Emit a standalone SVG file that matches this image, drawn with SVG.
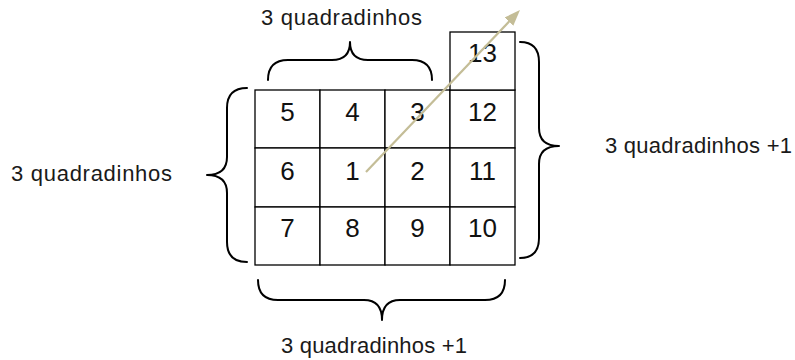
<svg xmlns="http://www.w3.org/2000/svg" width="795" height="360" viewBox="0 0 795 360">
  <style>
    .cell rect { fill: #ffffff; stroke: #000000; stroke-width: 1.3; }
    .cell text { font-family: "Liberation Sans", Arial, sans-serif; font-size: 26px; fill: #111111; text-anchor: middle; }
    .label { font-family: "Liberation Sans", Arial, sans-serif; font-size: 22px; fill: #1a1a1a; }
    .brace { fill: none; stroke: #000000; stroke-width: 2; stroke-linecap: round; stroke-linejoin: round; }
    .arrow { stroke: #C4BD97; stroke-width: 2.2; fill: none; }
  </style>
  <defs>
    <marker id="arrowhead" viewBox="0 0 16 12" refX="6" refY="6" markerWidth="16" markerHeight="12" markerUnits="userSpaceOnUse" orient="auto">
      <path d="M0,0 L16,6 L0,12 z" fill="#C4BD97"/>
    </marker>
  </defs>
  <rect x="0" y="0" width="795" height="360" fill="#ffffff"/>

  <g id="cell-5" class="cell"><rect x="255" y="90" width="65" height="58"/><text x="287.5" y="121">5</text></g>
  <g id="cell-4" class="cell"><rect x="320" y="90" width="65" height="58"/><text x="352.5" y="121">4</text></g>
  <g id="cell-3" class="cell"><rect x="385" y="90" width="65" height="58"/><text x="417.5" y="121">3</text></g>
  <g id="cell-12" class="cell"><rect x="450" y="90" width="65" height="58"/><text x="482.5" y="121">12</text></g>
  <g id="cell-6" class="cell"><rect x="255" y="148" width="65" height="59"/><text x="287.5" y="180">6</text></g>
  <g id="cell-1" class="cell"><rect x="320" y="148" width="65" height="59"/><text x="352.5" y="180">1</text></g>
  <g id="cell-2" class="cell"><rect x="385" y="148" width="65" height="59"/><text x="417.5" y="180">2</text></g>
  <g id="cell-11" class="cell"><rect x="450" y="148" width="65" height="59"/><text x="482.5" y="180">11</text></g>
  <g id="cell-7" class="cell"><rect x="255" y="207" width="65" height="58"/><text x="287.5" y="237">7</text></g>
  <g id="cell-8" class="cell"><rect x="320" y="207" width="65" height="58"/><text x="352.5" y="237">8</text></g>
  <g id="cell-9" class="cell"><rect x="385" y="207" width="65" height="58"/><text x="417.5" y="237">9</text></g>
  <g id="cell-10" class="cell"><rect x="450" y="207" width="65" height="58"/><text x="482.5" y="237">10</text></g>
  <g id="cell-13" class="cell"><rect x="450" y="32" width="65" height="58"/><text x="482.5" y="62">13</text></g>

  <g id="brace-top">
    <path class="brace" d="M268,80 Q268,60 288,60 L332,60 Q350,60 350,42 Q350,60 368,60 L412,60 Q432,60 432,80"/>
    <text class="label" x="261" y="25" textLength="161" lengthAdjust="spacing">3 quadradinhos</text>
  </g>
  <g id="brace-left">
    <path class="brace" d="M247,88 Q227,88 227,108 L227,157 Q227,175 207,175 Q227,175 227,193 L227,242 Q227,262 247,262"/>
    <text class="label" x="11" y="181" textLength="161" lengthAdjust="spacing">3 quadradinhos</text>
  </g>
  <g id="brace-right">
    <path class="brace" d="M520,42 Q539,42 539,62 L539,128 Q539,146 559,146 Q539,146 539,164 L539,238 Q539,258 520,258"/>
    <text class="label" x="605" y="153" textLength="187" lengthAdjust="spacing">3 quadradinhos +1</text>
  </g>
  <g id="brace-bottom">
    <path class="brace" d="M258,280 Q258,300 278,300 L364,300 Q382,300 382,320 Q382,300 400,300 L485,300 Q505,300 505,280"/>
    <text class="label" x="281" y="353" textLength="186" lengthAdjust="spacing">3 quadradinhos +1</text>
  </g>

  <g id="connectors">
    <line class="arrow" x1="366" y1="172" x2="513.1" y2="17.3" marker-end="url(#arrowhead)"/>
  </g>
</svg>
